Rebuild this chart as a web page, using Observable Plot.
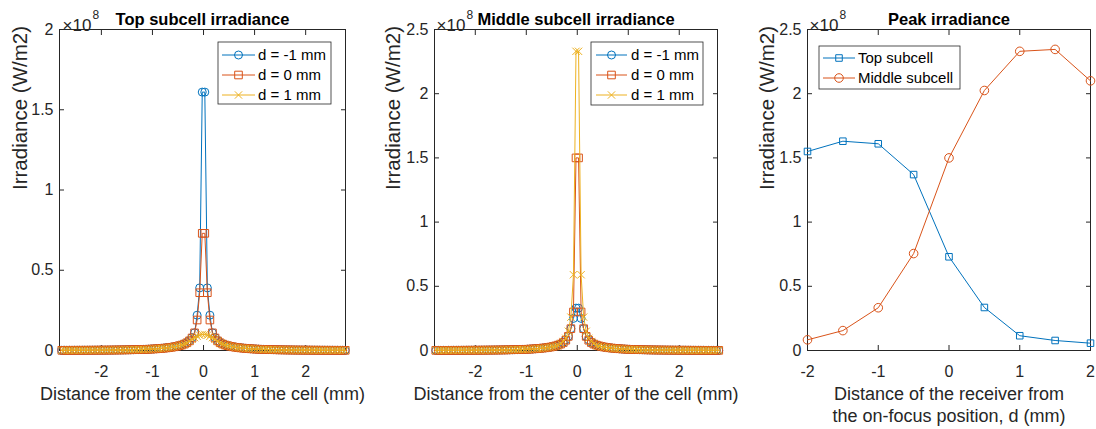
<!DOCTYPE html>
<html>
<head>
<meta charset="utf-8">
<script src="https://cdn.jsdelivr.net/npm/d3@7"></script>
<script src="https://cdn.jsdelivr.net/npm/@observablehq/plot@0.6"></script>
<style>
  html, body { margin: 0; padding: 0; background: #fff; }
  #root { position: relative; width: 1096px; height: 429px; background: #fff; overflow: hidden; }
</style>
</head>
<body>
<div id="root"></div>
<script>
// ---------- DATA (irradiance in units of 1e8 W/m2) ----------
const xPos = [
-2.775,-2.725,-2.675,-2.625,-2.575,-2.525,-2.475,-2.425,-2.375,-2.325,
-2.275,-2.225,-2.175,-2.125,-2.075,-2.025,-1.975,-1.925,-1.875,-1.825,
-1.775,-1.725,-1.675,-1.625,-1.575,-1.525,-1.475,-1.425,-1.375,-1.325,
-1.275,-1.225,-1.175,-1.125,-1.075,-1.025,-0.975,-0.925,-0.875,-0.825,
-0.775,-0.725,-0.675,-0.625,-0.575,-0.525,-0.475,-0.425,-0.375,-0.325,
-0.275,-0.225,-0.175,-0.125,-0.075,-0.025,
0.025,0.075,0.125,0.175,0.225,0.275,0.325,0.375,0.425,0.475,
0.525,0.575,0.625,0.675,0.725,0.775,0.825,0.875,0.925,0.975,
1.025,1.075,1.125,1.175,1.225,1.275,1.325,1.375,1.425,1.475,
1.525,1.575,1.625,1.675,1.725,1.775,1.825,1.875,1.925,1.975,
2.025,2.075,2.125,2.175,2.225,2.275,2.325,2.375,2.425,2.475,
2.525,2.575,2.625,2.675,2.725,2.775];

const topDm1 = [
0.0012,0.0013,0.0013,0.0014,0.0014,0.0015,0.0015,0.0016,0.0017,0.0017,0.0018,0.0019,0.002,0.0021,0.0022,0.0023,0.0024,0.0025,0.0027,0.0028,0.003,0.0032,0.0034,0.0036,0.0038,0.0041,0.0044,0.0047,0.0051,0.0055,0.0059,0.0064,0.007,0.0076,0.0083,0.009,0.010,0.011,0.012,0.0135,0.015,0.017,0.019,0.021,0.024,0.027,0.031,0.036,0.042,
0.05,0.062,0.08,0.11,0.22,0.39,1.61,
1.61,0.39,0.22,0.11,0.08,0.062,0.05,
0.042,0.036,0.031,0.027,0.024,0.021,0.019,0.017,0.015,0.0135,0.012,0.011,0.010,0.009,0.0083,0.0076,0.007,0.0064,0.0059,0.0055,0.0051,0.0047,0.0044,0.0041,0.0038,0.0036,0.0034,0.0032,0.003,0.0028,0.0027,0.0025,0.0024,0.0023,0.0022,0.0021,0.002,0.0019,0.0018,0.0017,0.0017,0.0016,0.0015,0.0015,0.0014,0.0014,0.0013,0.0013,0.0012];

const topD0 = [
0.0012,0.0012,0.0013,0.0013,0.0014,0.0014,0.0015,0.0015,0.0016,0.0016,0.0017,0.0018,0.0019,0.002,0.0021,0.0022,0.0023,0.0024,0.0026,0.0027,0.0029,0.0031,0.0033,0.0035,0.0037,0.0039,0.0042,0.0045,0.0049,0.0053,0.0057,0.0062,0.0067,0.0073,0.008,0.0087,0.0096,0.0106,0.0116,0.013,0.0145,0.016,0.018,0.02,0.023,0.026,0.03,0.034,0.04,
0.048,0.06,0.078,0.11,0.19,0.36,0.73,
0.73,0.36,0.19,0.11,0.078,0.06,0.048,
0.04,0.034,0.03,0.026,0.023,0.02,0.018,0.016,0.0145,0.013,0.0116,0.0106,0.0096,0.0087,0.008,0.0073,0.0067,0.0062,0.0057,0.0053,0.0049,0.0045,0.0042,0.0039,0.0037,0.0035,0.0033,0.0031,0.0029,0.0027,0.0026,0.0024,0.0023,0.0022,0.0021,0.002,0.0019,0.0018,0.0017,0.0016,0.0016,0.0015,0.0015,0.0014,0.0014,0.0013,0.0013,0.0012,0.0012];

const topD1 = [
0.0012,0.0012,0.0013,0.0013,0.0014,0.0014,0.0015,0.0015,0.0016,0.0016,0.0017,0.0018,0.0019,0.002,0.0021,0.0022,0.0023,0.0024,0.0026,0.0027,0.0029,0.0031,0.0033,0.0035,0.0037,0.0039,0.0042,0.0045,0.0049,0.0053,0.0057,0.0062,0.0067,0.0073,0.008,0.0087,0.0096,0.0106,0.0116,0.013,0.0145,0.016,0.018,0.02,0.023,0.026,0.03,0.034,0.04,
0.047,0.058,0.07,0.08,0.088,0.095,0.1,
0.1,0.095,0.088,0.08,0.07,0.058,0.047,
0.04,0.034,0.03,0.026,0.023,0.02,0.018,0.016,0.0145,0.013,0.0116,0.0106,0.0096,0.0087,0.008,0.0073,0.0067,0.0062,0.0057,0.0053,0.0049,0.0045,0.0042,0.0039,0.0037,0.0035,0.0033,0.0031,0.0029,0.0027,0.0026,0.0024,0.0023,0.0022,0.0021,0.002,0.0019,0.0018,0.0017,0.0016,0.0016,0.0015,0.0015,0.0014,0.0014,0.0013,0.0013,0.0012,0.0012];

const midDm1 = [
0.0012,0.0013,0.0013,0.0014,0.0014,0.0015,0.0015,0.0016,0.0017,0.0017,0.0018,0.0019,0.002,0.0021,0.0022,0.0023,0.0024,0.0025,0.0027,0.0028,0.003,0.0032,0.0034,0.0036,0.0038,0.0041,0.0044,0.0047,0.0051,0.0055,0.0059,0.0064,0.007,0.0076,0.0083,0.009,0.010,0.011,0.012,0.0135,0.015,0.017,0.019,0.021,0.024,0.027,0.031,0.036,0.042,
0.052,0.064,0.083,0.11,0.17,0.25,0.33,
0.33,0.25,0.17,0.11,0.083,0.064,0.052,
0.042,0.036,0.031,0.027,0.024,0.021,0.019,0.017,0.015,0.0135,0.012,0.011,0.010,0.009,0.0083,0.0076,0.007,0.0064,0.0059,0.0055,0.0051,0.0047,0.0044,0.0041,0.0038,0.0036,0.0034,0.0032,0.003,0.0028,0.0027,0.0025,0.0024,0.0023,0.0022,0.0021,0.002,0.0019,0.0018,0.0017,0.0017,0.0016,0.0015,0.0015,0.0014,0.0014,0.0013,0.0013,0.0012];

const midD0 = [
0.0012,0.0013,0.0013,0.0014,0.0014,0.0015,0.0015,0.0016,0.0017,0.0017,0.0018,0.0019,0.002,0.0021,0.0022,0.0023,0.0024,0.0025,0.0027,0.0028,0.003,0.0032,0.0034,0.0036,0.0038,0.0041,0.0044,0.0047,0.0051,0.0055,0.0059,0.0064,0.007,0.0076,0.0083,0.009,0.010,0.011,0.012,0.0135,0.015,0.017,0.019,0.021,0.024,0.027,0.031,0.036,0.042,
0.05,0.062,0.08,0.11,0.17,0.3,1.5,
1.5,0.3,0.17,0.11,0.08,0.062,0.05,
0.042,0.036,0.031,0.027,0.024,0.021,0.019,0.017,0.015,0.0135,0.012,0.011,0.010,0.009,0.0083,0.0076,0.007,0.0064,0.0059,0.0055,0.0051,0.0047,0.0044,0.0041,0.0038,0.0036,0.0034,0.0032,0.003,0.0028,0.0027,0.0025,0.0024,0.0023,0.0022,0.0021,0.002,0.0019,0.0018,0.0017,0.0017,0.0016,0.0015,0.0015,0.0014,0.0014,0.0013,0.0013,0.0012];

const midD1 = [
0.0012,0.0012,0.0013,0.0013,0.0014,0.0014,0.0015,0.0015,0.0016,0.0016,0.0017,0.0018,0.0019,0.002,0.0021,0.0022,0.0023,0.0024,0.0026,0.0027,0.0029,0.0031,0.0033,0.0035,0.0037,0.0039,0.0042,0.0045,0.0049,0.0053,0.0057,0.0062,0.0067,0.0073,0.008,0.0087,0.0096,0.0106,0.0116,0.013,0.0145,0.016,0.018,0.02,0.023,0.026,0.03,0.034,0.04,
0.054,0.07,0.095,0.15,0.26,0.59,2.33,
2.33,0.59,0.26,0.15,0.095,0.07,0.054,
0.04,0.034,0.03,0.026,0.023,0.02,0.018,0.016,0.0145,0.013,0.0116,0.0106,0.0096,0.0087,0.008,0.0073,0.0067,0.0062,0.0057,0.0053,0.0049,0.0045,0.0042,0.0039,0.0037,0.0035,0.0033,0.0031,0.0029,0.0027,0.0026,0.0024,0.0023,0.0022,0.0021,0.002,0.0019,0.0018,0.0017,0.0016,0.0016,0.0015,0.0015,0.0014,0.0014,0.0013,0.0013,0.0012,0.0012];

const dVals = [-2, -1.5, -1, -0.5, 0, 0.5, 1, 1.5, 2];
const peakTop = [1.55, 1.63, 1.61, 1.37, 0.73, 0.335, 0.115, 0.078, 0.057];
const peakMid = [0.083, 0.155, 0.333, 0.755, 1.50, 2.025, 2.33, 2.345, 2.10];

const seriesLabels = ["d = -1 mm", "d = 0 mm", "d = 1 mm"];
const peakLabels = ["Top subcell", "Middle subcell"];
const titles = ["Top subcell irradiance", "Middle subcell irradiance", "Peak irradiance"];
const yLabel = "Irradiance (W/m2)";
const xLabelProfile = "Distance from the center of the cell (mm)";
const xLabelPeak = "Distance of the receiver from\nthe on-focus position, d (mm)";
const xTicksProfile = [-2, -1, 0, 1, 2];
const xTicksPeak = [-2, -1, 0, 1, 2];
const yTicks2 = [0, 0.5, 1, 1.5, 2];
const yTicks25 = [0, 0.5, 1, 1.5, 2, 2.5];

// ---------- STYLE ----------
const C = ["#0072BD", "#D95319", "#EDB120"];
const SYM = ["circle", "square", "times"];
const INK = "#262626";
const FONT = "'Liberation Sans', Arial, Helvetica, sans-serif";

const rows = (xs, ys) => xs.map((x, i) => ({x, y: ys[i]}));

function makePanel(cfg) {
  const {left, width, mL, mR, xDomain, yDomain, xTicks, yTicks, title, xLabel, series, legend, labelDx} = cfg;
  const marks = [];
  marks.push(Plot.frame({stroke: INK, strokeWidth: 1}));
  marks.push(Plot.axisX(xTicks, {anchor: "bottom", tickSize: -5, tickPadding: 20, tickFormat: d => String(d), fontSize: 16, fill: INK, stroke: INK, label: null}));
  marks.push(Plot.axisX(xTicks, {anchor: "top", tickSize: -5, tickFormat: () => "", stroke: INK, label: null}));
  marks.push(Plot.axisY(yTicks, {anchor: "left", tickSize: -5, tickPadding: 11, tickFormat: d => String(d), fontSize: 16, fill: INK, stroke: INK, label: null}));
  marks.push(Plot.axisY(yTicks, {anchor: "right", tickSize: -5, tickFormat: () => "", stroke: INK, label: null}));
  for (const s of series) {
    marks.push(Plot.line(s.data, {x: "x", y: "y", stroke: s.color, strokeWidth: 1}));
    marks.push(Plot.dot(s.data, {x: "x", y: "y", symbol: s.symbol, r: s.r, stroke: s.color, fill: "none", strokeWidth: 1}));
  }
  // title
  marks.push(Plot.text([title], {frameAnchor: "top", dy: -16, fontSize: 16.5, fontWeight: "bold", fill: "#000"}));
  // exponent
  marks.push(Plot.text(["×10"], {frameAnchor: "top-left", textAnchor: "start", dx: cfg.expDx, dy: -11, fontSize: 17, fill: INK}));
  marks.push(Plot.text(["8"], {frameAnchor: "top-left", textAnchor: "start", dx: cfg.expDx + 30, dy: -19, fontSize: 12, fill: INK}));
  // axis labels
  marks.push(Plot.text([xLabel], {frameAnchor: "bottom", lineAnchor: "top", dy: 34, fontSize: 18, fill: INK, lineHeight: 1.22}));
  marks.push(Plot.text([yLabel], {frameAnchor: "left", rotate: -90, dx: labelDx, fontSize: 20.5, fill: INK}));

  const svg = Plot.plot({
    width, height: 429,
    marginLeft: mL, marginRight: mR, marginTop: 29, marginBottom: 79,
    x: {domain: xDomain},
    y: {domain: yDomain},
    style: {fontFamily: FONT, background: "transparent", overflow: "visible", position: "absolute", left: left + "px", top: "0px"},
    marks
  });

  // legend box
  const g = d3.select(svg).append("g");
  g.append("rect").attr("x", legend.x - left).attr("y", legend.y).attr("width", legend.w).attr("height", legend.h)
    .attr("fill", "#fff").attr("stroke", INK).attr("stroke-width", 0.8);
  legend.entries.forEach((e, i) => {
    const cy = legend.y + legend.first + i * 20;
    const x1 = legend.lx1 - left, x2 = legend.lx2 - left, xm = (x1 + x2) / 2;
    g.append("line").attr("x1", x1).attr("x2", x2).attr("y1", cy).attr("y2", cy).attr("stroke", e.color).attr("stroke-width", 1);
    const type = e.symbol === "circle" ? d3.symbolCircle : e.symbol === "square" ? d3.symbolSquare : d3.symbolTimes;
    g.append("path").attr("d", d3.symbol(type, Math.PI * e.r * e.r)()).attr("transform", `translate(${xm},${cy})`)
      .attr("fill", "none").attr("stroke", e.color).attr("stroke-width", 1);
    g.append("text").attr("x", legend.tx - left).attr("y", cy).attr("dy", "0.35em").attr("font-size", 15)
      .attr("text-anchor", "start").attr("font-family", FONT).attr("fill", "#000").text(e.label);
  });
  document.getElementById("root").appendChild(svg);
}

const profileSeries = (arrs) => arrs.map((ys, i) => ({data: rows(xPos, ys), color: C[i], symbol: SYM[i], r: i === 2 ? 3.4 : (i === 1 ? 4.3 : 4)}));
const profileLegendEntries = seriesLabels.map((label, i) => ({label, color: C[i], symbol: SYM[i], r: i === 2 ? 3.4 : (i === 1 ? 4.3 : 4)}));

makePanel({
  left: 0, width: 372, mL: 59, mR: 27, xDomain: [-2.82, 2.78], yDomain: [0, 2],
  xTicks: xTicksProfile, yTicks: yTicks2, title: titles[0], xLabel: xLabelProfile, labelDx: -39, expDx: 3,
  series: profileSeries([topDm1, topD0, topD1]),
  legend: {x: 218, y: 42, w: 113, h: 62, first: 13, lx1: 222, lx2: 255, tx: 258, entries: profileLegendEntries}
});

makePanel({
  left: 374, width: 372, mL: 60, mR: 29, xDomain: [-2.8, 2.75], yDomain: [0, 2.5],
  xTicks: xTicksProfile, yTicks: yTicks25, title: titles[1], xLabel: xLabelProfile, labelDx: -41, expDx: 2,
  series: profileSeries([midDm1, midD0, midD1]),
  legend: {x: 591, y: 42, w: 112, h: 63, first: 13, lx1: 596, lx2: 627, tx: 631, entries: profileLegendEntries}
});

makePanel({
  left: 748, width: 348, mL: 59, mR: 6, xDomain: [-2, 2], yDomain: [0, 2.5],
  xTicks: xTicksPeak, yTicks: yTicks25, title: titles[2], xLabel: xLabelPeak, labelDx: -40, expDx: 2,
  series: [
    {data: rows(dVals, peakTop), color: C[0], symbol: "square", r: 3.7},
    {data: rows(dVals, peakMid), color: C[1], symbol: "circle", r: 4.3}
  ],
  legend: {x: 819, y: 46, w: 141, h: 43, first: 12, lx1: 823, lx2: 855, tx: 858,
    entries: [
      {label: peakLabels[0], color: C[0], symbol: "square", r: 3.7},
      {label: peakLabels[1], color: C[1], symbol: "circle", r: 4.3}
    ]}
});
</script>
</body>
</html>
